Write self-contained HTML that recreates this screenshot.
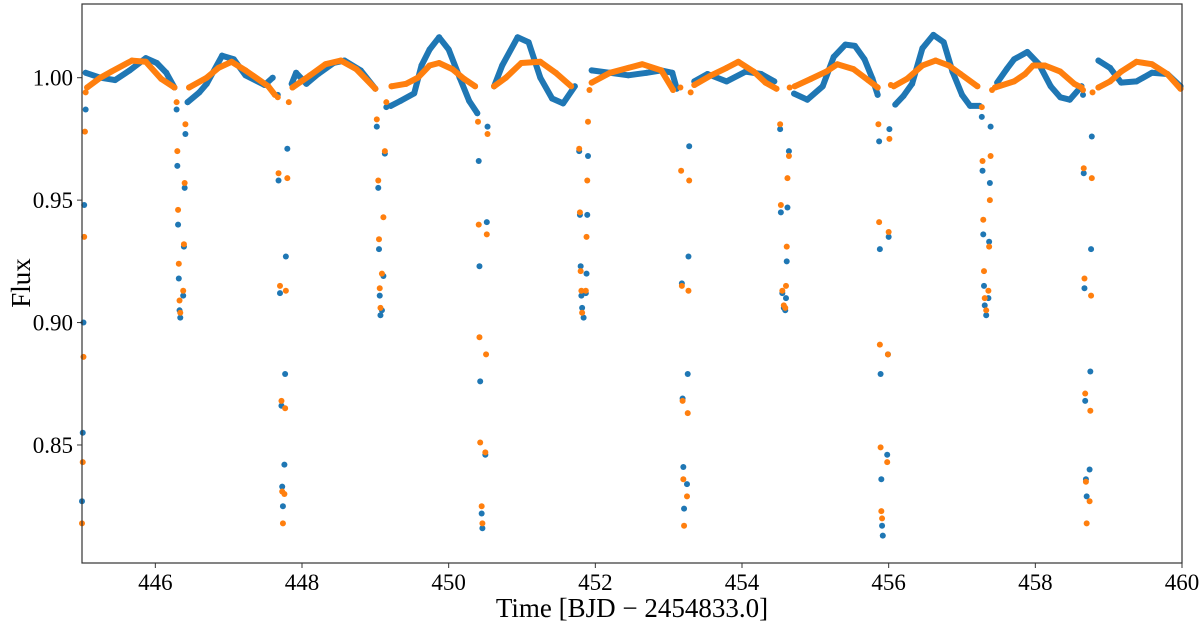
<!DOCTYPE html>
<html><head><meta charset="utf-8"><style>
html,body{margin:0;padding:0;background:#fff;}
svg{display:block;font-family:"Liberation Serif",serif;}
</style></head><body>
<svg id="chart" width="1200" height="631" viewBox="0 0 1200 631">
<rect x="82" y="4" width="1100" height="559" fill="#fff" stroke="none"/>
<g id="marks"></g>
<g id="axes"></g>
<rect x="82" y="4" width="1100" height="559" fill="none" stroke="#333" stroke-width="1.2"/>
<text x="632" y="617" text-anchor="middle" font-size="27">Time [BJD − 2454833.0]</text>
<text transform="translate(30,283) rotate(-90)" text-anchor="middle" font-size="27">Flux</text>
</svg>
<script>
const xTicks = [446,448,450,452,454,456,458,460];
const yTicks = [0.85,0.90,0.95,1.00];
const yTickLabels = ["0.85","0.90","0.95","1.00"];
// out-of-eclipse segments: [time, flux]
const blueBaseline = [
 [[445.05,1.002],[445.25,1.000],[445.45,0.999],[445.65,1.003],[445.87,1.008],[446.02,1.006],[446.15,1.002],[446.26,0.996]],
 [[446.44,0.990],[446.6,0.994],[446.7,0.9975],[446.91,1.009],[447.07,1.0075],[447.23,1.001],[447.49,0.997],[447.6,1.0]],
 [[447.86,0.9975],[447.92,1.002],[448.06,0.9975],[448.22,1.0015],[448.43,1.006],[448.58,1.007],[448.8,1.003],[449.0,0.9955]],
 [[449.21,0.9885],[449.34,0.9905],[449.53,0.9936],[449.63,1.005],[449.74,1.0115],[449.87,1.0165],[450.0,1.0115],[450.15,1.0],[450.28,0.9905],[450.39,0.9855]],
 [[450.62,0.9965],[450.73,1.005],[450.94,1.0165],[451.09,1.0145],[451.25,1.0],[451.41,0.9915],[451.56,0.9895],[451.72,0.9965]],
 [[451.95,1.003],[452.2,1.002],[452.45,1.001],[452.7,1.002],[452.9,1.003],[453.05,1.002],[453.11,0.9955]],
 [[453.35,0.9985],[453.53,1.0015],[453.79,0.9985],[454.05,1.0025],[454.26,1.0015],[454.44,0.9985]],
 [[454.71,0.9935],[454.89,0.991],[455.1,0.9965],[455.25,1.0085],[455.41,1.0135],[455.54,1.013],[455.67,1.0075],[455.78,0.9995],[455.85,0.993]],
 [[456.09,0.989],[456.2,0.9925],[456.32,0.9975],[456.46,1.012],[456.61,1.0175],[456.75,1.0145],[456.87,1.0025],[457.0,0.993],[457.11,0.9885],[457.24,0.9885]],
 [[457.48,0.998],[457.61,1.0035],[457.71,1.0075],[457.89,1.0105],[458.05,1.0055],[458.21,0.9965],[458.34,0.992],[458.47,0.991],[458.63,0.9965]],
 [[458.86,1.007],[459.02,1.004],[459.17,0.998],[459.38,0.9985],[459.59,1.002],[459.8,1.0015],[459.98,0.9965]]
];
const orangeBaseline = [
 [[445.07,0.996],[445.25,1.000],[445.4,1.0025],[445.68,1.007],[445.87,1.0065],[446.08,0.9995],[446.26,0.996]],
 [[446.46,0.996],[446.7,1.0],[446.86,1.004],[447.04,1.0065],[447.23,1.003],[447.54,0.9965],[447.63,0.993]],
 [[447.87,0.996],[448.11,1.001],[448.32,1.0055],[448.53,1.007],[448.74,1.0035],[449.0,0.9955]],
 [[449.22,0.9965],[449.42,0.9975],[449.58,1.0],[449.74,1.005],[449.87,1.006],[450.05,1.0035],[450.21,0.9995],[450.36,0.9965]],
 [[450.62,0.9965],[450.78,1.0],[450.99,1.006],[451.25,1.0065],[451.46,1.002],[451.67,0.9965]],
 [[451.95,0.998],[452.2,1.002],[452.45,1.004],[452.64,1.0055],[452.9,1.003],[453.06,0.995]],
 [[453.35,0.997],[453.58,1.001],[453.79,1.004],[453.95,1.0065],[454.16,1.0025],[454.32,0.998],[454.47,0.9955]],
 [[454.72,0.9965],[454.94,0.9995],[455.15,1.0025],[455.3,1.0055],[455.52,1.0035],[455.72,0.999],[455.85,0.996]],
 [[456.07,0.9965],[456.25,0.9995],[456.46,1.005],[456.64,1.007],[456.82,1.005],[456.98,1.0015],[457.21,0.9965]],
 [[457.45,0.996],[457.71,0.9985],[457.86,1.0015],[457.97,1.005],[458.13,1.005],[458.34,1.0025],[458.53,0.9975],[458.63,0.996]],
 [[458.86,0.996],[459.02,0.9985],[459.17,1.0025],[459.38,1.0065],[459.59,1.0055],[459.8,1.0015],[459.98,0.9955]]
];
// in-eclipse points
const blueEclipse = [
 [445.0,0.827],[445.01,0.855],[445.02,0.900],[445.03,0.948],[445.05,0.987],
 [446.29,0.987],[446.3,0.964],[446.31,0.940],[446.32,0.918],[446.33,0.905],[446.34,0.902],[446.38,0.911],[446.39,0.931],[446.40,0.955],[446.41,0.977],
 [447.67,0.993],[447.68,0.958],[447.70,0.912],[447.72,0.866],[447.73,0.833],[447.74,0.825],[447.76,0.842],[447.77,0.879],[447.78,0.927],[447.80,0.971],
 [449.02,0.980],[449.04,0.955],[449.05,0.930],[449.06,0.911],[449.07,0.903],[449.09,0.905],[449.11,0.919],[449.13,0.969],[449.15,0.988],
 [450.41,0.966],[450.42,0.923],[450.43,0.876],[450.45,0.822],[450.46,0.816],[450.50,0.846],[450.52,0.941],[450.53,0.980],
 [451.78,0.970],[451.79,0.944],[451.80,0.923],[451.81,0.911],[451.82,0.906],[451.84,0.902],[451.87,0.912],[451.88,0.920],[451.89,0.944],[451.90,0.968],
 [453.18,0.916],[453.19,0.869],[453.20,0.841],[453.21,0.824],[453.25,0.834],[453.26,0.879],[453.27,0.927],[453.28,0.972],
 [454.52,0.979],[454.53,0.945],[454.55,0.912],[454.57,0.906],[454.59,0.905],[454.60,0.910],[454.61,0.925],[454.62,0.947],[454.64,0.970],
 [455.87,0.974],[455.88,0.930],[455.89,0.879],[455.90,0.836],[455.91,0.817],[455.92,0.813],[455.98,0.846],[455.99,0.887],[456.00,0.935],[456.01,0.979],
 [457.27,0.984],[457.28,0.962],[457.29,0.936],[457.30,0.915],[457.31,0.907],[457.33,0.903],[457.36,0.910],[457.37,0.933],[457.38,0.957],[457.39,0.980],
 [458.65,0.993],[458.66,0.961],[458.67,0.914],[458.68,0.868],[458.69,0.836],[458.70,0.829],[458.74,0.840],[458.75,0.880],[458.76,0.930],[458.77,0.976]
];
const orangeEclipse = [
 [445.0,0.818],[445.01,0.843],[445.02,0.886],[445.03,0.935],[445.04,0.978],[445.05,0.994],
 [446.29,0.990],[446.3,0.970],[446.31,0.946],[446.32,0.924],[446.33,0.909],[446.34,0.904],[446.38,0.913],[446.39,0.932],[446.40,0.957],[446.41,0.981],
 [447.67,0.992],[447.68,0.961],[447.70,0.915],[447.72,0.868],[447.73,0.831],[447.74,0.818],[447.76,0.830],[447.77,0.865],[447.78,0.913],[447.80,0.959],[447.82,0.990],
 [449.02,0.983],[449.04,0.958],[449.05,0.934],[449.06,0.914],[449.07,0.906],[449.09,0.920],[449.11,0.943],[449.13,0.970],[449.15,0.990],
 [450.40,0.982],[450.41,0.940],[450.42,0.894],[450.43,0.851],[450.45,0.825],[450.46,0.818],[450.50,0.847],[450.51,0.887],[450.52,0.936],[450.53,0.977],
 [451.78,0.971],[451.79,0.945],[451.80,0.921],[451.81,0.913],[451.82,0.904],[451.87,0.913],[451.88,0.935],[451.89,0.958],[451.90,0.982],[451.92,0.995],
 [453.16,0.996],[453.17,0.962],[453.18,0.915],[453.19,0.868],[453.20,0.836],[453.21,0.817],[453.25,0.829],[453.26,0.863],[453.27,0.913],[453.28,0.958],[453.30,0.994],
 [454.52,0.981],[454.53,0.948],[454.55,0.913],[454.57,0.907],[454.59,0.906],[454.60,0.915],[454.61,0.931],[454.62,0.959],[454.64,0.968],[454.65,0.996],
 [455.86,0.981],[455.87,0.941],[455.88,0.891],[455.89,0.849],[455.90,0.823],[455.91,0.820],[455.98,0.843],[455.99,0.887],[456.00,0.937],[456.01,0.975],[456.03,0.997],
 [457.27,0.988],[457.28,0.966],[457.29,0.942],[457.30,0.921],[457.31,0.910],[457.33,0.905],[457.36,0.913],[457.37,0.931],[457.38,0.950],[457.39,0.968],[457.41,0.995],
 [458.65,0.995],[458.66,0.963],[458.67,0.918],[458.68,0.871],[458.69,0.835],[458.70,0.818],[458.74,0.827],[458.75,0.864],[458.76,0.911],[458.77,0.959],[458.78,0.994]
];
const X0=82, X1=1182, Y0=4, Y1=563, TMIN=445, TMAX=460, FMIN=0.8018, FMAX=1.0301;
function xs(t){return X0+(t-TMIN)/(TMAX-TMIN)*(X1-X0);}
function ys(f){return Y1-(f-FMIN)/(FMAX-FMIN)*(Y1-Y0);}
const NS='http://www.w3.org/2000/svg';
const marks=document.getElementById('marks'), axes=document.getElementById('axes');
function drawSeries(base, ecl, color, name){
  const g=document.createElementNS(NS,'g');
  
  
  base.forEach(seg=>{
    const pl=document.createElementNS(NS,'polyline');
    pl.setAttribute('points', seg.map(p=>xs(p[0]).toFixed(1)+','+ys(p[1]).toFixed(1)).join(' '));
    pl.setAttribute('fill','none');pl.setAttribute('stroke',color);
    pl.setAttribute('stroke-width','6');pl.setAttribute('stroke-linecap','round');pl.setAttribute('stroke-linejoin','round');
    
    
    g.appendChild(pl);
    seg.forEach(p=>{
      const c=document.createElementNS(NS,'circle');
      c.setAttribute('cx',xs(p[0]));c.setAttribute('cy',ys(p[1]));c.setAttribute('r','3');c.setAttribute('fill',color);
      
      
      g.appendChild(c);
    });
  });
  ecl.forEach(p=>{
    const c=document.createElementNS(NS,'circle');
    c.setAttribute('cx',xs(p[0]));c.setAttribute('cy',ys(p[1]));c.setAttribute('r','3');c.setAttribute('fill',color);
    
    
    g.appendChild(c);
  });
  marks.appendChild(g);
}
drawSeries(blueBaseline, blueEclipse, '#1f77b4', 'blue');
drawSeries(orangeBaseline, orangeEclipse, '#ff7f0e', 'orange');
xTicks.forEach(t=>{
  const l=document.createElementNS(NS,'line');
  l.setAttribute('x1',xs(t));l.setAttribute('x2',xs(t));l.setAttribute('y1',Y1);l.setAttribute('y2',Y1+5);
  l.setAttribute('stroke','#333');
  
  
  axes.appendChild(l);
  const tx=document.createElementNS(NS,'text');
  tx.setAttribute('x',xs(t));tx.setAttribute('y',Y1+27);tx.setAttribute('text-anchor','middle');tx.setAttribute('font-size','23');
  tx.textContent=String(t);
  
  
  axes.appendChild(tx);
});
yTicks.forEach((f,i)=>{
  const l=document.createElementNS(NS,'line');
  l.setAttribute('x1',X0-5);l.setAttribute('x2',X0);l.setAttribute('y1',ys(f));l.setAttribute('y2',ys(f));
  l.setAttribute('stroke','#333');
  
  
  axes.appendChild(l);
  const tx=document.createElementNS(NS,'text');
  tx.setAttribute('x',X0-9);tx.setAttribute('y',ys(f)+8);tx.setAttribute('text-anchor','end');tx.setAttribute('font-size','23');
  tx.textContent=yTickLabels[i];
  
  
  axes.appendChild(tx);
});
</script>
</body></html>
